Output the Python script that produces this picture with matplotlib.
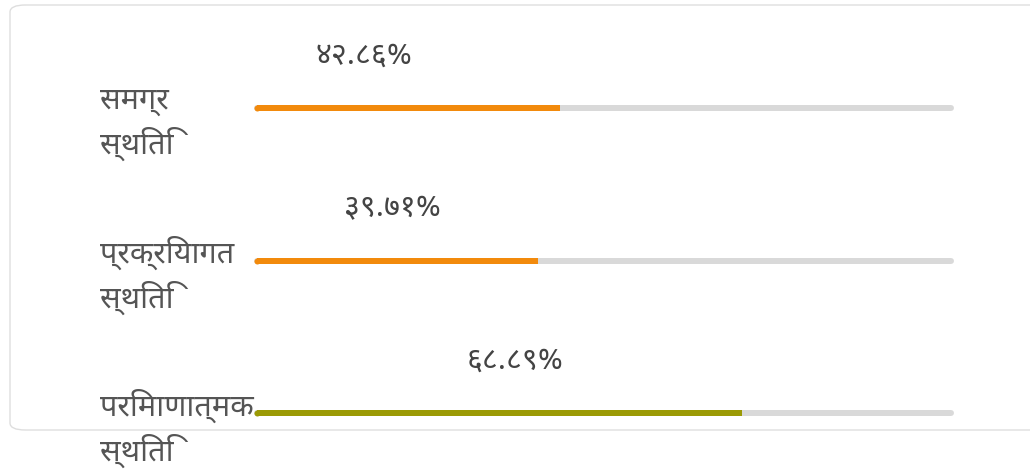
import matplotlib
matplotlib.use("Agg")
from matplotlib import pyplot as plt
from matplotlib.patches import FancyBboxPatch

# data
categories = ["समग्र\nस्थिति", "प्रक्रियागत\nस्थिति", "परिमाणात्मक\nस्थिति"]
values = [42.86, 39.71, 68.89]
bar_colors = ["#f28a0c", "#f28a0c", "#9b9a05"]
label_x = [14.9, 18.9, 36.5]  # where the percent labels sit, in track units

DEV_DIGITS = str.maketrans("0123456789", "०१२३४५६७८९")


def to_nepali(v):
    return ("%.2f" % v).translate(DEV_DIGITS) + "%"


plt.rcParams["font.family"] = ["Noto Sans Devanagari", "Noto Sans", "DejaVu Sans"]

W, H = 1030, 469
fig = plt.figure(figsize=(W / 100, H / 100), dpi=100)

# card outline
card = FancyBboxPatch((10 / W, 1 - 430 / H), 1040 / W, 425 / H,
                      boxstyle="round,pad=0,rounding_size=0.015",
                      transform=fig.transFigure, facecolor="white",
                      edgecolor="#dedede", linewidth=1.0, clip_on=False, zorder=-5)
fig.patches.append(card)

ax = fig.add_axes([260 / W, 0, 699 / W, 1])
ax.set_xlim(0, 100)
ax.set_ylim((H - 108) / 152.5, -108 / 152.5)
ax.axis("off")

lw = 6 * 72 / 100
for i, (v, c) in enumerate(zip(values, bar_colors)):
    ax.plot([-0.45, 98.8], [i, i], color="#d9d9d9", linewidth=lw,
            solid_capstyle="round", clip_on=False)
    ax.plot([-0.45, v], [i, i], color=c, linewidth=lw, solid_capstyle="butt", clip_on=False)
    ax.plot([-0.45], [i], marker="o", markersize=lw, color=c, markeredgewidth=0, clip_on=False)
    ax.text(label_x[i], i - 0.34, to_nepali(v), ha="center", va="center",
            fontsize=22, color="#444444")
    ax.text(-22.9, i + 0.1, categories[i], ha="left", va="center",
            fontsize=22, color="#555555", linespacing=1.4, clip_on=False)

fig.savefig("out.png", dpi=100)
